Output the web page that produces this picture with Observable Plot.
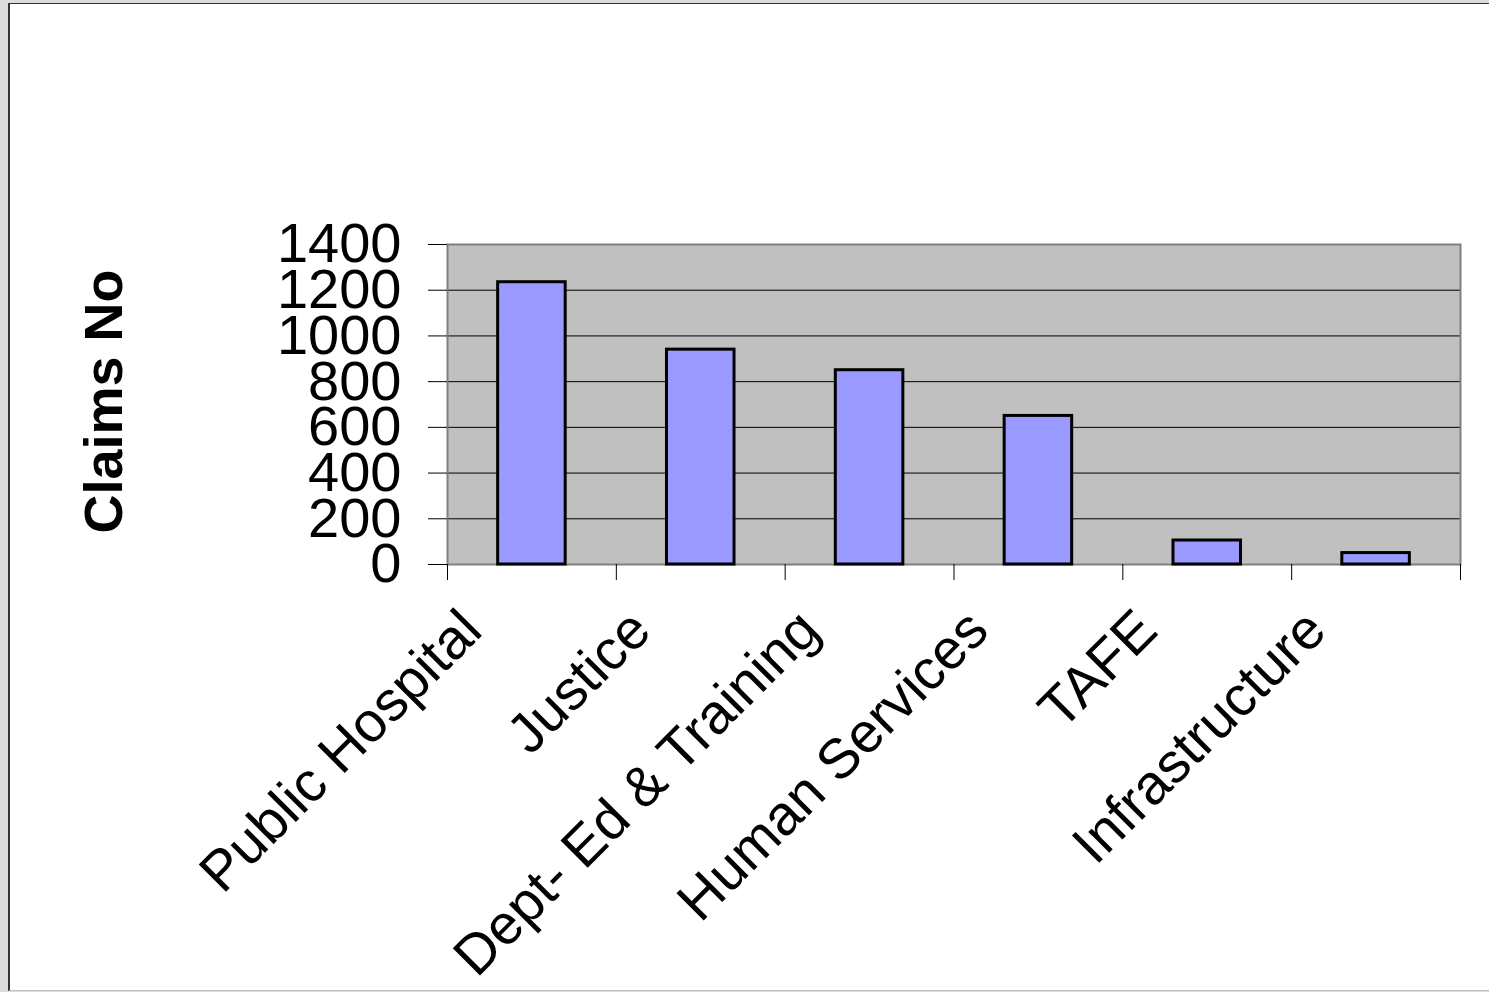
<!DOCTYPE html>
<html><head><meta charset="utf-8">
<script src="https://cdn.jsdelivr.net/npm/d3@7"></script>
<script src="https://cdn.jsdelivr.net/npm/@observablehq/plot@0.6"></script>
<style>
html,body{margin:0;padding:0;background:#dcdcdc;width:1489px;height:992px;overflow:hidden;}
#frame{position:absolute;left:8px;top:3px;width:1500px;height:986px;background:#fff;border-left:2px solid #333;border-top:1px solid #333;border-bottom:1px solid #c0c0c0;}
#chart{position:absolute;left:0;top:0;}
</style></head><body><div id="frame"></div><div id="chart"></div>
<script>
const categories = ["Public Hospital", "Justice", "Dept- Ed & Training", "Human Services", "TAFE", "Infrastructure"];
const claims = [1235, 940, 850, 650, 105, 50];
const yTicks = [0, 200, 400, 600, 800, 1000, 1200, 1400];
const yTitle = "Claims No";

const data = categories.map((c, i) => ({category: c, index: i, claims: claims[i]}));
const font = '"Liberation Sans", Arial, Helvetica, sans-serif';

const chart = Plot.plot({
  width: 1489, height: 992,
  marginLeft: 447, marginRight: 29, marginTop: 244, marginBottom: 428,
  style: {background: "none", fontFamily: font, overflow: "visible", color: "#000"},
  x: {type: "linear", domain: [0, categories.length], axis: null},
  y: {domain: [0, 1400], axis: null},
  marks: [
    Plot.frame({fill: "#c0c0c0"}),
    Plot.gridY(yTicks, {stroke: "#000", strokeOpacity: 1, strokeWidth: 1}),
    Plot.frame({stroke: "#808080", strokeWidth: 2}),
    Plot.axisY(yTicks, {tickSize: 19, tickPadding: 27, fontSize: 56, stroke: "#000", fill: "#000", label: null, tickFormat: d => String(d)}),
    Plot.axisX(d3.range(categories.length + 1), {tickSize: 16, stroke: "#000", tickFormat: () => "", label: null}),
    Plot.rectY(data, {x1: d => d.index + 0.3, x2: d => d.index + 0.7, y: "claims", fill: "#9999ff", stroke: "#000", strokeWidth: 3}),
    Plot.text(data, {x: d => d.index + 0.5, y: 0, text: "category", rotate: -45, textAnchor: "end", lineAnchor: "middle", dx: -60, dy: 56, fontSize: 56, fill: "#000"}),
    Plot.text([yTitle], {frameAnchor: "left", dx: -343, dy: -3, rotate: -90, textAnchor: "middle", lineAnchor: "middle", fontSize: 54, fontWeight: "bold", fill: "#000"})
  ]
});
document.getElementById("chart").appendChild(chart);
</script>
</body></html>
